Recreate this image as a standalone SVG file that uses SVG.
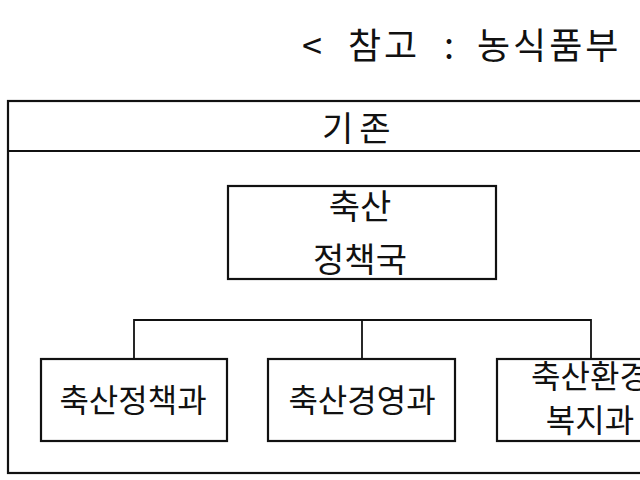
<svg xmlns="http://www.w3.org/2000/svg" width="640" height="480" viewBox="0 0 640 480">
<style>
  text { font-family: "Noto Sans CJK KR", "Noto Sans", sans-serif; fill: #111; }
  .box { fill: #fff; stroke: #111; stroke-width: 2.2; }
  .lbl { font-size: 32px; text-anchor: middle; }
  .big { font-size: 34px; text-anchor: middle; }
  .conn { fill: none; stroke: #111; stroke-width: 1.8; }
</style>
<rect x="0" y="0" width="640" height="480" fill="#fff"/>
<g id="header">
  <text font-size="36" letter-spacing="3" y="59"><tspan x="302">&lt;</tspan><tspan x="348">참고</tspan><tspan x="444">:</tspan><tspan x="477">농식품부</tspan></text>
</g>
<g id="frame">
  <rect class="box" x="8" y="101" width="720" height="372"/>
  <line x1="8" y1="151" x2="728" y2="151" stroke="#111" stroke-width="2.2"/>
  <text font-size="34" letter-spacing="6" x="322" y="141">기존</text>
</g>
<g id="connectors">
  <polyline class="conn" points="134,359 134,320 591,320 591,359"/>
  <line class="conn" x1="362" y1="320" x2="362" y2="359"/>
</g>
<g id="node-bureau">
  <rect class="box" x="228" y="186" width="268" height="93"/>
  <text class="big" x="360" y="219">축산</text>
  <text class="big" x="360" y="272">정책국</text>
</g>
<g id="node-policy">
  <rect class="box" x="41" y="359" width="186" height="82"/>
  <text class="lbl" x="133" y="412">축산정책과</text>
</g>
<g id="node-management">
  <rect class="box" x="268" y="359" width="187" height="82"/>
  <text class="lbl" x="362" y="412">축산경영과</text>
</g>
<g id="node-welfare">
  <rect class="box" x="497" y="359" width="187" height="82"/>
  <text class="lbl" x="590" y="388">축산환경</text>
  <text class="lbl" x="590" y="432">복지과</text>
</g>
</svg>
